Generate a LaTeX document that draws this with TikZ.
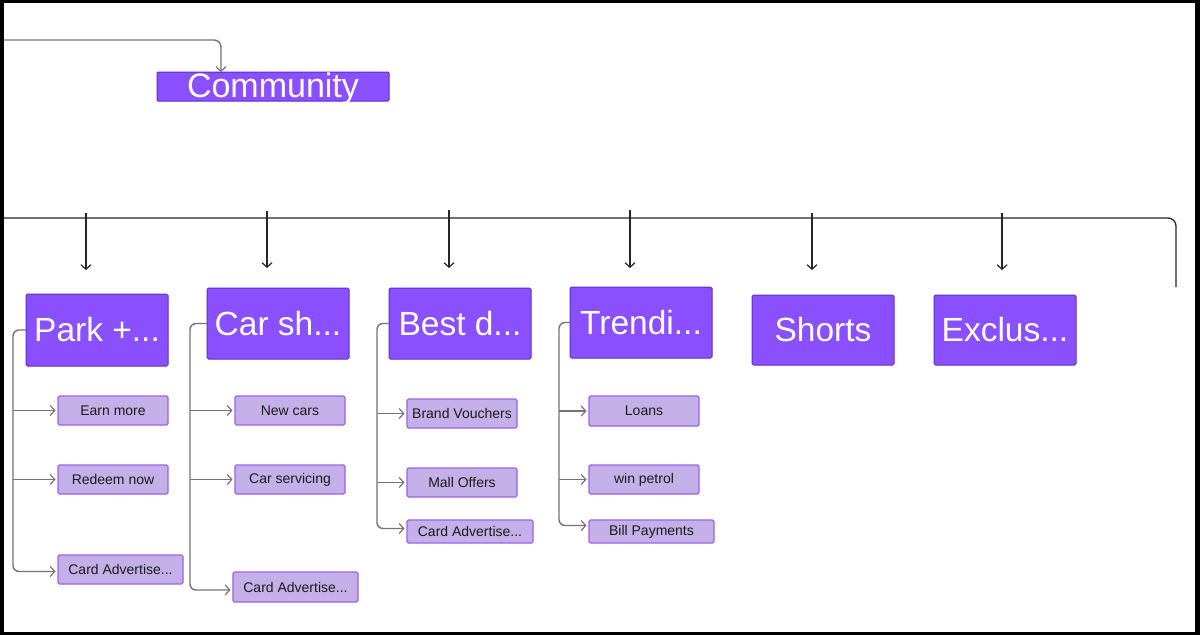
\documentclass[tikz,border=0pt]{standalone}
\usepackage{fontspec}
\setmainfont{Liberation Sans}
\usetikzlibrary{arrows.meta}
\definecolor{bigfill}{HTML}{8A50FF}
\definecolor{bigdraw}{HTML}{5B2EC0}
\definecolor{smallfill}{HTML}{C3B0E8}
\definecolor{smalldraw}{HTML}{A25EE6}
\definecolor{conngray}{HTML}{747474}
\definecolor{textdark}{HTML}{1A1A1A}
\begin{document}
\begin{tikzpicture}[x=1pt,y=-1pt,
  bigbox/.style={draw=bigdraw, fill=bigfill, line width=1pt, rounded corners=1.5pt,
    inner sep=0pt, outer sep=0pt, anchor=north west, text=white,
    font=\fontsize{33.5}{34}\selectfont, minimum width=142pt, minimum height=71pt},
  smallbox/.style={draw=smalldraw, fill=smallfill, line width=1.1pt, rounded corners=1.5pt,
    inner sep=0pt, outer sep=0pt, anchor=north west, text=textdark,
    font=\fontsize{14}{15}\selectfont, minimum width=110pt, minimum height=29pt},
  conn/.style={draw=conngray, line width=1.4pt, rounded corners=6pt},
  tipg/.style={-{Straight Barb[length=4.5pt,width=10pt,line width=1.2pt]}, shorten >=2.5pt},
  blackconn/.style={draw=black!85, line width=1.3pt},
  tipb/.style={-{Straight Barb[length=4.5pt,width=10pt,line width=1.2pt]}}
]
% frame
\fill[black] (0,0) rectangle (1200,635);
\fill[white] (4,3) rectangle (1195,632);
\useasboundingbox (0,0) rectangle (1200,635);

% community
\node[draw=bigdraw, fill=bigfill, line width=1pt, rounded corners=1pt, inner sep=0pt,
  outer sep=0pt, anchor=north west, minimum width=232pt, minimum height=29pt,
  text height=21pt, text depth=0pt, text=white, font=\fontsize{34}{34}\selectfont]
  (community) at (157,72) {Community};
\coordinate (cstart) at (4,40);
\draw[conn, rounded corners=7pt, -{Straight Barb[length=4.5pt,width=10pt,line width=1.2pt]}]
  (cstart) -| ([xshift=64pt]community.north west);

% big boxes
\node[bigbox, minimum height=72pt] (park) at (26,294) {Park +...};
\node[bigbox] (carsh) at (207,288) {Car sh...};
\node[bigbox] (best) at (389,288) {Best d...};
\node[bigbox] (trendi) at (570,287) {Trendi...};
\node[bigbox, minimum height=70pt] (shorts) at (752,295) {Shorts};
\node[bigbox, minimum height=70pt] (exclus) at (934,295) {Exclus...};

% horizontal distribution line
\coordinate (hstart) at (4,218);
\coordinate (hend) at (1176,287);
\draw[blackconn, rounded corners=8pt] (hstart) -| (hend);

% down arrows
\draw[blackconn, tipb] ([xshift=-11pt,yshift=81pt]park.north) -- ([xshift=-11pt,yshift=24pt]park.north);
\draw[blackconn, tipb] ([xshift=-11pt,yshift=77pt]carsh.north) -- ([xshift=-11pt,yshift=20pt]carsh.north);
\draw[blackconn, tipb] ([xshift=-11pt,yshift=78pt]best.north) -- ([xshift=-11pt,yshift=20pt]best.north);
\draw[blackconn, tipb] ([xshift=-11pt,yshift=77pt]trendi.north) -- ([xshift=-11pt,yshift=19pt]trendi.north);
\draw[blackconn, tipb] ([xshift=-11pt,yshift=82pt]shorts.north) -- ([xshift=-11pt,yshift=25pt]shorts.north);
\draw[blackconn, tipb] ([xshift=-3pt,yshift=82pt]exclus.north) -- ([xshift=-3pt,yshift=25pt]exclus.north);

% children: Park
\node[smallbox] (pc1) at (58,396) {Earn more};
\node[smallbox] (pc2) at (58,465) {Redeem now};
\node[smallbox, minimum width=125pt] (pc3) at (58,555) {Card Advertise...};
\coordinate (pv) at ([xshift=-13pt]park.west);
\draw[conn, tipg] (park.west) -- (pv) |- ([yshift=-2pt]pc3.west);
\draw[conn, tipg] (pc1.west -| pv) -- (pc1.west);
\draw[conn, tipg] (pc2.west -| pv) -- (pc2.west);

% children: Car sh
\node[smallbox] (cc1) at (235,396) {New cars};
\node[smallbox] (cc2) at (235,465) {Car servicing};
\node[smallbox, minimum width=125pt, minimum height=30pt] (cc3) at (233,572) {Card Advertise...};
\coordinate (cv) at ([xshift=-17pt]carsh.west);
\draw[conn, tipg] (carsh.west) -- (cv) |- ([yshift=-3pt]cc3.west);
\draw[conn, tipg] (cc1.west -| cv) -- (cc1.west);
\draw[conn, tipg] (cc2.west -| cv) -- (cc2.west);

% children: Best d
\node[smallbox] (bc1) at (407,399) {Brand Vouchers};
\node[smallbox] (bc2) at (407,468) {Mall Offers};
\node[smallbox, minimum width=126pt, minimum height=23pt] (bc3) at (407,520) {Card Advertise...};
\coordinate (bv) at ([xshift=-12pt]best.west);
\draw[conn, tipg] (best.west) -- (bv) |- ([yshift=3pt]bc3.west);
\draw[conn, tipg] (bc1.west -| bv) -- (bc1.west);
\draw[conn, tipg] (bc2.west -| bv) -- (bc2.west);

% children: Trendi
\node[smallbox, minimum height=30pt] (tc1) at (589,396) {Loans};
\node[smallbox] (tc2) at (589,465) {win petrol};
\node[smallbox, minimum width=125pt, minimum height=23pt] (tc3) at (589,520) {Bill Payments};
\coordinate (tv) at ([xshift=-11pt]trendi.west);
\draw[conn, tipg] (trendi.west) -- (tv) |- ([yshift=6pt]tc3.west);
\draw[conn, tipg] (tc1.west -| tv) -- (tc1.west);
\draw[conn, tipg] (tc2.west -| tv) -- (tc2.west);
\end{tikzpicture}
\end{document}
